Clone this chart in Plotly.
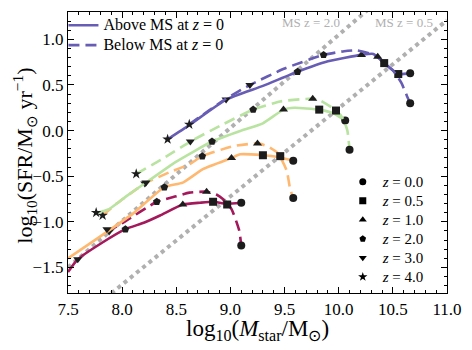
import plotly.graph_objects as go

# curves: stellar mass (log) vs SFR (log), one path per mass bin
above_x = [8.42, 8.62, 8.96, 9.30, 9.62, 9.90, 10.21, 10.32, 10.40, 10.55, 10.66]
above_y = [-0.095, 0.06, 0.34, 0.49, 0.645, 0.76, 0.83, 0.84, 0.76, 0.62, 0.63]
below_x = [8.62, 8.80, 8.96, 9.18, 9.50, 9.86, 10.05, 10.17, 10.30, 10.36, 10.42, 10.50, 10.58, 10.63, 10.66]
below_y = [0.068, 0.22, 0.35, 0.50, 0.68, 0.83, 0.87, 0.88, 0.84, 0.81, 0.74, 0.66, 0.52, 0.38, 0.30]

green_x = [7.76, 7.88, 8.05, 8.22, 8.50, 8.83, 9.10, 9.30, 9.49, 9.59, 9.82, 9.95, 10.06]
green_y = [-0.90, -0.86, -0.71, -0.57, -0.34, -0.12, 0.00, 0.08, 0.23, 0.25, 0.23, 0.19, 0.11]
green_d_x = [8.13, 8.40, 8.63, 8.90, 9.21, 9.46, 9.76, 9.83, 9.975, 10.04, 10.08, 10.10]
green_d_y = [-0.475, -0.29, -0.12, 0.05, 0.23, 0.32, 0.35, 0.33, 0.22, 0.13, 0.00, -0.21]

orange_x = [7.50, 7.86, 8.10, 8.39, 8.56, 8.75, 9.01, 9.09, 9.30, 9.44, 9.58]
orange_y = [-1.40, -1.11, -0.91, -0.62, -0.57, -0.42, -0.30, -0.26, -0.27, -0.29, -0.33]
orange_d_x = [7.82, 7.95, 8.21, 8.45, 8.62, 8.74, 9.03, 9.25, 9.34, 9.44, 9.52, 9.55, 9.58]
orange_d_y = [-0.93, -0.80, -0.58, -0.45, -0.37, -0.28, -0.17, -0.14, -0.17, -0.25, -0.44, -0.63, -0.74]

red_x = [7.50, 7.59, 7.80, 8.03, 8.20, 8.35, 8.56, 8.72, 8.84, 8.96, 9.10]
red_y = [-1.55, -1.41, -1.24, -1.08, -1.01, -0.93, -0.81, -0.79, -0.78, -0.80, -0.79]
red_d_x = [7.86, 8.02, 8.32, 8.50, 8.62, 8.78, 8.87, 8.93, 9.01, 9.08, 9.10]
red_d_y = [-1.11, -1.00, -0.78, -0.72, -0.68, -0.67, -0.70, -0.75, -0.86, -1.09, -1.26]

# snapshot markers along each curve (redshift, x, y)
above_mz = [4.0, 3.0, 2.0, 1.0, 0.5, 0.0]
above_mx = [8.42, 8.96, 9.62, 10.21, 10.55, 10.66]
above_my = [-0.095, 0.34, 0.645, 0.83, 0.62, 0.63]
below_mz = [4.0, 3.0, 2.0, 1.0, 0.5, 0.0]
below_mx = [8.62, 9.18, 9.86, 10.36, 10.42, 10.66]
below_my = [0.068, 0.50, 0.83, 0.81, 0.74, 0.30]
green_mz = [4.0, 3.0, 2.0, 1.0, 0.5, 0.0]
green_mx = [7.76, 8.22, 8.83, 9.49, 9.82, 10.06]
green_my = [-0.90, -0.57, -0.12, 0.23, 0.23, 0.11]
green_d_mz = [4.0, 3.0, 2.0, 1.0, 0.5, 0.0]
green_d_mx = [8.13, 8.63, 9.21, 9.76, 9.975, 10.10]
green_d_my = [-0.475, -0.12, 0.23, 0.35, 0.22, -0.21]
orange_mz = [3.0, 2.0, 1.0, 0.5, 0.0]
orange_mx = [7.86, 8.39, 9.01, 9.30, 9.58]
orange_my = [-1.08, -0.62, -0.30, -0.27, -0.33]
orange_d_mz = [4.0, 3.0, 2.0, 1.0, 0.5, 0.0]
orange_d_mx = [7.82, 8.21, 8.74, 9.25, 9.46, 9.58]
orange_d_my = [-0.93, -0.58, -0.28, -0.14, -0.28, -0.74]
red_mz = [3.0, 2.0, 1.0, 0.5, 0.0]
red_mx = [7.59, 8.03, 8.56, 8.84, 9.10]
red_my = [-1.41, -1.08, -0.81, -0.78, -0.79]
red_d_mz = [3.0, 2.0, 1.0, 0.5, 0.0]
red_d_mx = [7.88, 8.32, 8.78, 8.97, 9.10]
red_d_my = [-1.105, -0.78, -0.67, -0.81, -1.26]

# main sequence reference lines
ms_z2_x = [7.5, 10.5]
ms_z2_y = [-1.50, 1.56]
ms_z05_x = [7.5, 11.0]
ms_z05_y = [-2.17, 1.21]

z_labels = [0.0, 0.5, 1.0, 2.0, 3.0, 4.0]
symbols = {0.0: "circle", 0.5: "square", 1.0: "triangle-up",
           2.0: "pentagon", 3.0: "triangle-down", 4.0: "star"}

PURPLE = "#675db4"
GREEN = "#b9e3a0"
ORANGE = "#ffb870"
RED = "#a4195c"
GREY = "#b0b0b0"
FONT = "Liberation Serif"
DASH = "11px,6px"

fig = go.Figure()

fig.add_trace(go.Scatter(x=ms_z2_x, y=ms_z2_y, mode="lines", showlegend=False,
                         line=dict(color=GREY, width=4, dash="4px,4px")))
fig.add_trace(go.Scatter(x=ms_z05_x, y=ms_z05_y, mode="lines", showlegend=False,
                         line=dict(color=GREY, width=4, dash="4px,4px")))

curves = [
    (red_x, red_y, RED, "solid", red_mz, red_mx, red_my),
    (red_d_x, red_d_y, RED, DASH, red_d_mz, red_d_mx, red_d_my),
    (orange_x, orange_y, ORANGE, "solid", orange_mz, orange_mx, orange_my),
    (orange_d_x, orange_d_y, ORANGE, DASH, orange_d_mz, orange_d_mx, orange_d_my),
    (green_x, green_y, GREEN, "solid", green_mz, green_mx, green_my),
    (green_d_x, green_d_y, GREEN, DASH, green_d_mz, green_d_mx, green_d_my),
    (above_x, above_y, PURPLE, "solid", above_mz, above_mx, above_my),
    (below_x, below_y, PURPLE, DASH, below_mz, below_mx, below_my),
]

for cx, cy, col, dash, mz, mx, my in curves:
    fig.add_trace(go.Scatter(x=cx, y=cy, mode="lines", showlegend=False,
                             line=dict(color=col, width=2.6, dash=dash, shape="spline", smoothing=0.5)))
    fig.add_trace(go.Scatter(x=mx, y=my, mode="markers", showlegend=False,
                             marker=dict(color="#1c1c1c", size=8,
                                         symbol=[symbols[z] for z in mz])))

# legend rows are packed tighter by giving the legend a small font and
# enlarging the label text itself
def big(txt, size):
    return f'<span style="font-size:{size}px">{txt}</span>'

# top-left legend: line styles
fig.add_trace(go.Scatter(x=[None], y=[None], mode="lines", name=big("Above MS at <i>z</i> = 0", 16),
                         line=dict(color=PURPLE, width=2.6), legend="legend"))
fig.add_trace(go.Scatter(x=[None], y=[None], mode="lines", name=big("Below MS at <i>z</i> = 0", 16),
                         line=dict(color=PURPLE, width=2.6, dash=DASH), legend="legend"))

# bottom-right legend: redshift markers
for z in z_labels:
    fig.add_trace(go.Scatter(x=[None], y=[None], mode="markers", name=big(f"<i>z</i> = {z:.1f}", 15),
                             marker=dict(color="black", size=7, symbol=symbols[z]),
                             legend="legend2"))

fig.add_annotation(x=10.03, y=1.19, text="MS z = 2.0", showarrow=False,
                   xanchor="right", font=dict(color=GREY, size=13, family=FONT))
fig.add_annotation(x=10.89, y=1.19, text="MS z = 0.5", showarrow=False,
                   xanchor="right", font=dict(color=GREY, size=13, family=FONT))

# axis titles placed by hand
fig.add_annotation(xref="paper", yref="paper", x=0.5, y=-0.13, showarrow=False,
                   text="log<sub>10</sub>(<i>M</i><sub>star</sub>/M<sub>⊙</sub>)",
                   font=dict(family=FONT, size=23, color="black"), yanchor="middle")
fig.add_annotation(xref="paper", yref="paper", x=-0.115, y=0.49, showarrow=False,
                   text="log<sub>10</sub>(SFR/M<sub>⊙</sub> yr<sup>−1</sup>)", textangle=-90,
                   font=dict(family=FONT, size=22, color="black"), xanchor="center")

axis = dict(showline=True, linecolor="black", linewidth=1.3, mirror="ticks",
            ticks="inside", ticklen=6, tickwidth=1.1, tickcolor="black",
            showgrid=False, zeroline=False, automargin=False,
            tickfont=dict(family=FONT, size=17, color="black"))

fig.update_xaxes(range=[7.5, 11.0], dtick=0.5, tickformat=".1f",
                 minor=dict(ticks="inside", ticklen=3, dtick=0.1, tickcolor="black"),
                 **axis)
fig.update_yaxes(range=[-1.78, 1.30], dtick=0.5, tickformat=".1f",
                 minor=dict(ticks="inside", ticklen=3, dtick=0.1, tickcolor="black"),
                 **axis)

# page body has an 8px margin, so the figure is sized to fit the window
fig.update_layout(
    width=464, height=342,
    margin=dict(l=60, r=25, t=2, b=57),
    plot_bgcolor="white", paper_bgcolor="white",
    font=dict(family=FONT, color="black"),
    legend=dict(x=-0.012, y=1.006, xanchor="left", yanchor="top",
                bgcolor="rgba(0,0,0,0)", font=dict(size=13, family=FONT),
                itemwidth=30, tracegroupgap=0),
    legend2=dict(x=0.725, y=0.006, xanchor="left", yanchor="bottom",
                 bgcolor="rgba(0,0,0,0)", font=dict(size=12, family=FONT),
                 itemwidth=30, tracegroupgap=0),
)

fig.write_html("out.html")
